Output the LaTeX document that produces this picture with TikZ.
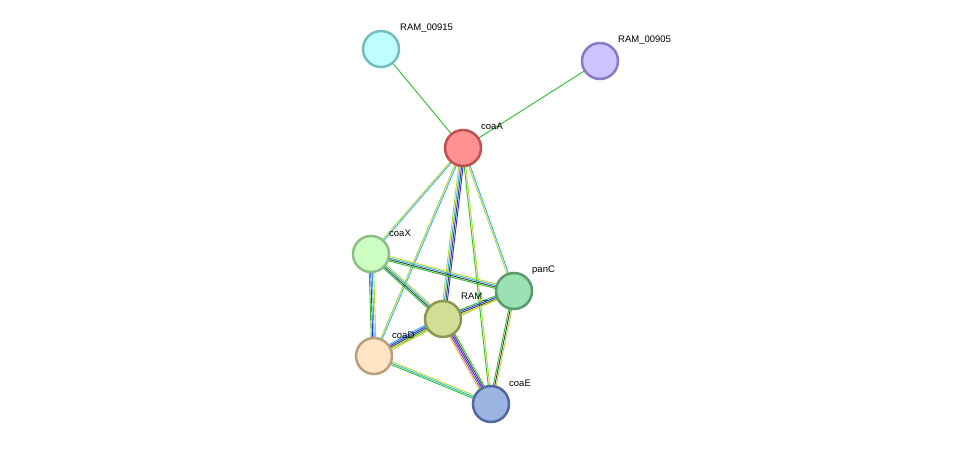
\documentclass[tikz,border=0pt]{standalone}
\usepackage{fontspec}
\setmainfont{Liberation Sans}
\usetikzlibrary{calc,backgrounds}
\definecolor{eg}{RGB}{40,195,40}
\definecolor{ey}{RGB}{185,215,40}
\definecolor{ec}{RGB}{40,180,225}
\definecolor{eb}{RGB}{40,40,235}
\definecolor{ek}{RGB}{60,60,60}
\definecolor{em}{RGB}{215,40,215}
\tikzset{prot/.style={circle,minimum size=36pt,inner sep=0pt,line width=2.5pt},
 lab/.style={anchor=west,font=\fontsize{9.5pt}{10pt}\selectfont,inner sep=0pt}}
\newcommand\edge[3]{%
 \foreach \c [count=\i] in {#3} {\global\let\nn\i}%
 \foreach \c [count=\i] in {#3} {%
  \pgfmathsetmacro\off{(\i-(\nn+1)/2)*1.5}%
  \draw[\c,line width=0.9pt] ($(#1.center)!\off pt!90:(#2.center)$) -- ($(#2.center)!\off pt!-90:(#1.center)$);}}
\begin{document}
\begin{tikzpicture}[x=1pt,y=-1pt]
\useasboundingbox (0,0) rectangle (975,450);
\node[prot,fill={rgb,255:red,192;green,255;blue,255},draw={rgb,255:red,115;green,190;blue,190}] (n1) at (381,49) {};
\node[prot,fill={rgb,255:red,205;green,195;blue,255},draw={rgb,255:red,140;green,120;blue,200}] (n2) at (600,61) {};
\node[prot,fill={rgb,255:red,255;green,145;blue,145},draw={rgb,255:red,195;green,80;blue,80}] (nA) at (463,148) {};
\node[prot,fill={rgb,255:red,205;green,255;blue,195},draw={rgb,255:red,140;green,190;blue,130}] (nX) at (371,254) {};
\node[prot,fill={rgb,255:red,155;green,225;blue,180},draw={rgb,255:red,90;green,155;blue,110}] (nP) at (514,291) {};
\node[prot,fill={rgb,255:red,210;green,222;blue,150},draw={rgb,255:red,140;green,150;blue,80}] (nR) at (443,319) {};
\node[prot,fill={rgb,255:red,255;green,228;blue,195},draw={rgb,255:red,185;green,160;blue,120}] (nD) at (374,356) {};
\node[prot,fill={rgb,255:red,155;green,180;blue,225},draw={rgb,255:red,80;green,105;blue,160}] (nE) at (491,404) {};
\node[lab] (l1) at (400,28) {RAM\_00915};
\node[lab] (l2) at (618,40) {RAM\_00905};
\node[lab] (lA) at (481,126) {coaA};
\node[lab] (lX) at (389,233) {coaX};
\node[lab] (lP) at (532,270) {panC};
\node[lab] (lR) at (461,297) {RAM\_};
\node[lab] (lD) at (392,335) {coaD};
\node[lab] (lE) at (509,383) {coaE};
\begin{pgfonlayer}{background}
\edge{nA}{n1}{eg}
\edge{nA}{n2}{eg}
\edge{nA}{nX}{ey,ec}
\edge{nA}{nD}{ey,ec}
\edge{nA}{nR}{ey,ec,ek,eb}
\edge{nA}{nE}{eg,ey}
\edge{nA}{nP}{ey,ec}
\edge{nX}{nP}{eg,ek,ec,ey}
\edge{nX}{nR}{eg,ek,ec,ey}
\edge{nX}{nD}{eg,eb,ec,ey}
\edge{nP}{nR}{eg,eb,ek,ey}
\edge{nP}{nE}{eg,ek,ey}
\edge{nR}{nD}{ec,eb,ek,eg,ey}
\edge{nR}{nE}{ey,em,eb,ek,eg}
\edge{nD}{nE}{eg,ec,ey}
\edge{nD}{nP}{ey}
\end{pgfonlayer}
\end{tikzpicture}
\end{document}
